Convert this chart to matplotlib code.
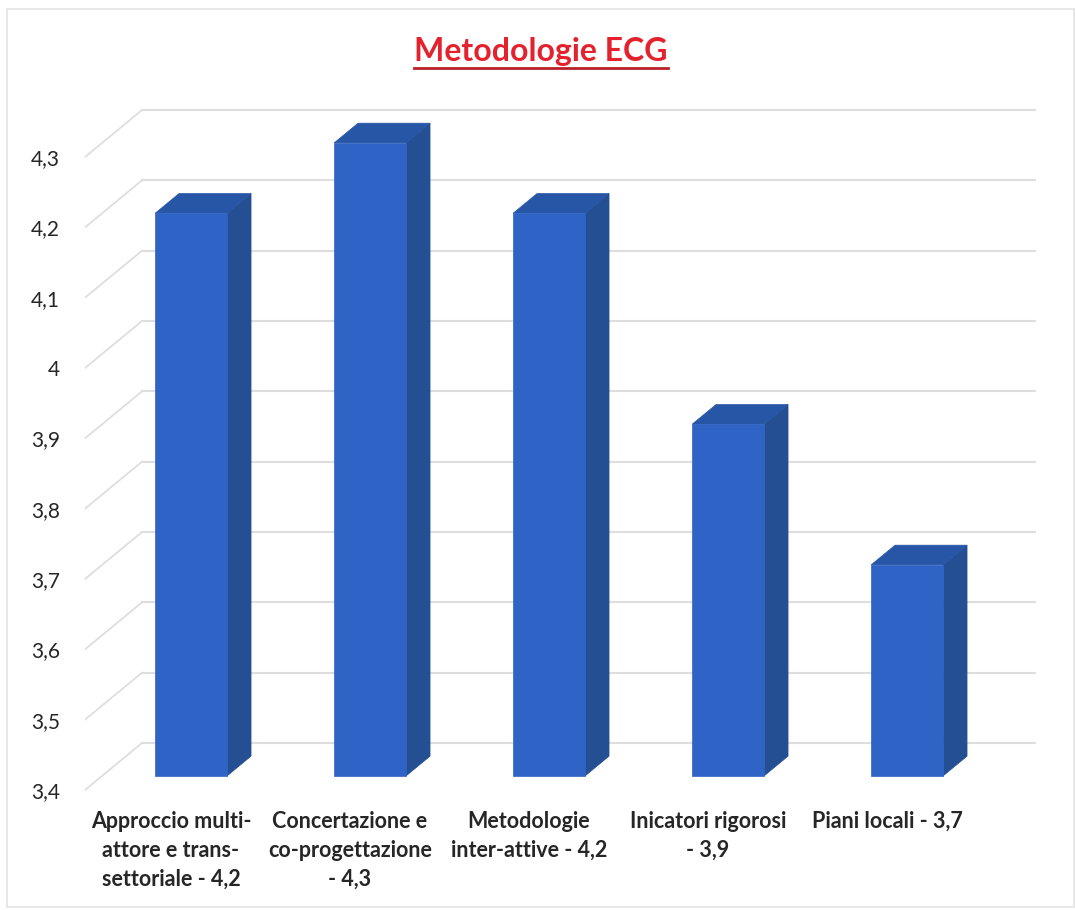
import matplotlib.pyplot as plt
from matplotlib.patches import Polygon, Rectangle
from matplotlib.lines import Line2D

categorie = [
    "Approccio multi-\nattore e trans-\nsettoriale - 4,2",
    "Concertazione e\nco-progettazione\n- 4,3",
    "Metodologie\ninter-attive - 4,2",
    "Inicatori rigorosi\n- 3,9",
    "Piani locali - 3,7",
]
valori = [4.2, 4.3, 4.2, 3.9, 3.7]
tick_valori = [3.4, 3.5, 3.6, 3.7, 3.8, 3.9, 4.0, 4.1, 4.2, 4.3]
tick_labels = ["3,4", "3,5", "3,6", "3,7", "3,8", "3,9", "4", "4,1", "4,2", "4,3"]

W, H = 1075, 910
fig = plt.figure(figsize=(W / 100, H / 100), dpi=100)

# geometria (pixel -> dati)
PX_Y = 703.3          # pixel per unità di valore
PX_X = 179.0          # pixel per categoria
X0 = 174.0            # pixel del centro categoria 0 (piano frontale)
Y34 = 790.0           # pixel del valore 3,4 (piano frontale)
DX = 57 / PX_X        # spostamento in profondità (categorie)
DY = 47 / PX_Y        # spostamento in profondità (valori)
BASE = 3.4

ax_l, ax_r, ax_t, ax_b = 85, 1045, 90, 800
ax = fig.add_axes([ax_l / W, 1 - ax_b / H, (ax_r - ax_l) / W, (ax_b - ax_t) / H])
ax.set_xlim((ax_l - X0) / PX_X, (ax_r - X0) / PX_X)
ax.set_ylim(BASE - (ax_b - Y34) / PX_Y, BASE + (Y34 - ax_t) / PX_Y)
for s in ax.spines.values():
    s.set_visible(False)
ax.set_xticks([])
ax.set_yticks(tick_valori)
ax.set_yticklabels(tick_labels, fontsize=15, family="Lato", color="#262626")
ax.tick_params(axis="y", length=0, pad=18)


def P(x, v, d):
    return (x + d * DX, v + d * DY)


xl = (ax_l - X0) / PX_X
xr_back = (1035 - X0) / PX_X - DX
grid_col = "#dedede"
for v in tick_valori:
    ax.plot([xl, xl + DX], [v, v + DY], color=grid_col, lw=1.3, zorder=1)
    ax.plot([xl + DX, xr_back + DX], [v + DY, v + DY], color=grid_col, lw=1.5, zorder=1)

# barre 3D
hw = 36 / PX_X
d0, d1 = 0.3, 0.72
c_front, c_side, c_top = "#2f63c6", "#244f93", "#2856a6"
for i, val in enumerate(valori):
    fl = P(i - hw, BASE, d0)
    fr = P(i + hw, BASE, d0)
    frt = P(i + hw, val, d0)
    flt = P(i - hw, val, d0)
    br = P(i + hw, BASE, d1)
    brt = P(i + hw, val, d1)
    blt = P(i - hw, val, d1)
    ax.add_patch(Polygon([fr, br, brt, frt], closed=True, fc=c_side, ec=c_side, lw=0.5, zorder=3))
    ax.add_patch(Polygon([flt, frt, brt, blt], closed=True, fc=c_top, ec=c_top, lw=0.5, zorder=3))
    ax.add_patch(Polygon([fl, fr, frt, flt], closed=True, fc=c_front, ec=c_front, lw=0.5, zorder=4))
    ax.text(i - 3 / PX_X, BASE - 21 / PX_Y, categorie[i], ha="center", va="top", fontsize=15.5,
            family="Lato", fontweight="bold", color="#262626", linespacing=1.47,
            clip_on=False)

# titolo sottolineato
title = fig.text(541 / W, 1 - 52 / H, "Metodologie ECG", ha="center", va="center",
                 fontsize=23, family="Lato", fontweight="bold", color="#e3222e")
fig.canvas.draw()
bb = title.get_window_extent()
y_line = (bb.y0 - 1) / H
fig.add_artist(Line2D([bb.x0 / W, bb.x1 / W], [y_line, y_line], color="#b8202c", lw=2))

# bordo area grafico
fig.add_artist(Rectangle((7 / W, 1 - 907 / H), 1 - 7 / W - 1 / W, (907 - 9) / H,
                         transform=fig.transFigure, fill=False, ec="#e3e3e3", lw=1.2))

fig.savefig("out.png", dpi=100)
